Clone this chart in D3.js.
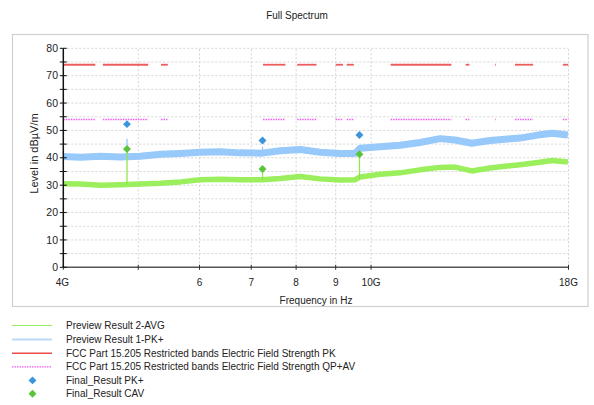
<!DOCTYPE html>
<html>
<head>
<meta charset="utf-8">
<script src="https://cdn.jsdelivr.net/npm/d3@7"></script>
<style>
  html, body { margin: 0; padding: 0; background: #fff; }
  svg { display: block; font-family: "Liberation Sans", Arial, sans-serif; }
</style>
</head>
<body>
<svg id="chart" width="594" height="405"></svg>
<script>
// Sweep frequencies (GHz) and trace levels (dBµV/m)
const freqGHz = [4.00, 4.21, 4.47, 4.74, 5.03, 5.34, 5.67, 6.01, 6.38, 6.77, 7.23, 7.63, 8.10, 8.59, 9.12, 9.54, 9.68, 10.27, 10.90, 11.57, 12.28, 12.84, 13.50, 14.25, 14.90, 15.58, 16.43, 17.14, 17.97];
const previewPk = [40.5, 40.2, 40.6, 40.3, 40.6, 41.3, 41.6, 42.0, 42.2, 41.8, 41.7, 42.6, 43.0, 42.0, 41.6, 41.6, 43.5, 44.0, 44.6, 45.6, 47.0, 46.5, 45.3, 46.3, 46.8, 47.2, 48.3, 49.0, 48.3];
const previewAvg = [30.5, 30.4, 30.0, 30.2, 30.4, 30.7, 31.2, 32.0, 32.2, 32.0, 32.0, 32.4, 33.2, 32.3, 31.9, 32.0, 33.0, 34.0, 34.5, 35.6, 36.5, 36.6, 35.2, 36.3, 36.9, 37.5, 38.3, 39.0, 38.5];

// Narrow emissions found in the sweep
const spikeFreq = [4.835, 7.238, 9.66];
const spikePkBase = [40.4, 41.7, 42.0];
const spikePkTop = [47.0, 44.0, 44.5];
const spikeAvgBase = [30.2, 32.0, 32.2];
const spikeAvgTop = [42.5, 35.8, 41.0];

// Final measurements
const finalFreq = [4.835, 7.238, 9.66];
const finalPk = [52.3, 46.3, 48.3];
const finalCav = [43.2, 35.9, 41.3];

// FCC 15.205 restricted bands (GHz) and limits
const bandStart = [4.0, 4.5, 5.35, 7.25, 8.025, 9.0, 9.3, 10.6, 13.25, 14.47, 15.35, 17.7];
const bandEnd   = [4.4, 5.15, 5.46, 7.75, 8.5, 9.2, 9.5, 12.7, 13.4, 14.5, 16.2, 18.0];
const limitPk = 74;
const limitAv = 54;

// Axis ticks
const xTickValues = [4, 5, 6, 7, 8, 9, 10, 18];
const xTickLabels = ["4G", "", "6", "7", "8", "9", "10G", "18G"];
const yTickValues = [0, 10, 20, 30, 40, 50, 60, 70, 80];
const yGridValues = d3.range(5, 81, 5);

const legendLabels = [
  "Preview Result 2-AVG",
  "Preview Result 1-PK+",
  "FCC Part 15.205 Restricted bands Electric Field Strength PK",
  "FCC Part 15.205 Restricted bands Electric Field Strength QP+AV",
  "Final_Result PK+",
  "Final_Result CAV"
];

const colors = {
  avg: "#9cef5c",
  pk: "#97c9fb",
  limPk: "#ec4b4b",
  limAv: "#f35cf3",
  finPk: "#3c94dc",
  finCav: "#5cc43a"
};

const svg = d3.select("#chart");
const x = d3.scaleLog().domain([4, 18]).range([63.3, 568.5]);
const y = d3.scaleLinear().domain([0, 80]).range([267.3, 48.3]);

// Outer frame
svg.append("rect").attr("x", 12.5).attr("y", 34.5).attr("width", 575.5).attr("height", 272)
  .attr("fill", "none").attr("stroke", "#cfcfcf").attr("stroke-width", 1.2);

// Title
svg.append("text").attr("x", 297).attr("y", 19).attr("text-anchor", "middle")
  .attr("font-size", 10).attr("fill", "#222").text("Full Spectrum");

// Grid
const grid = svg.append("g").attr("stroke", "#d4d4d4").attr("stroke-dasharray", "2,2").attr("stroke-width", 1);
yGridValues.forEach(v => {
  grid.append("line").attr("x1", x(4)).attr("x2", x(18)).attr("y1", y(v)).attr("y2", y(v));
});
xTickValues.filter(v => v > 4).forEach(v => {
  grid.append("line").attr("x1", x(v)).attr("x2", x(v)).attr("y1", y(0)).attr("y2", y(80));
});

const plot = svg.append("g");
svg.append("clipPath").attr("id", "clip").append("rect")
  .attr("x", x(4)).attr("y", y(80)).attr("width", x(18) - x(4)).attr("height", y(0) - y(80));
plot.attr("clip-path", "url(#clip)");

// Limit lines over restricted bands
const bands = bandStart.map((s, i) => ({ s, e: bandEnd[i] }));
plot.selectAll(".limPk").data(bands).join("line")
  .attr("x1", d => x(d.s)).attr("x2", d => x(d.e))
  .attr("y1", y(limitPk)).attr("y2", y(limitPk))
  .attr("stroke", colors.limPk).attr("stroke-width", 1.8).attr("opacity", 0.9);
plot.selectAll(".limAv").data(bands).join("line")
  .attr("x1", d => x(d.s)).attr("x2", d => x(d.e))
  .attr("y1", y(limitAv)).attr("y2", y(limitAv))
  .attr("stroke", colors.limAv).attr("stroke-width", 1.3).attr("stroke-dasharray", "1.5,1");

// Preview traces
const line = d3.line().x(d => x(d[0])).y(d => y(d[1])).curve(d3.curveLinear);
plot.append("path").datum(freqGHz.map((f, i) => [f, previewPk[i]]))
  .attr("d", line).attr("fill", "none").attr("stroke", colors.pk)
  .attr("stroke-width", 7).attr("stroke-linejoin", "round");
plot.append("path").datum(freqGHz.map((f, i) => [f, previewAvg[i]]))
  .attr("d", line).attr("fill", "none").attr("stroke", colors.avg)
  .attr("stroke-width", 5.5).attr("stroke-linejoin", "round");

// Narrow spikes
spikeFreq.forEach((f, i) => {
  plot.append("line").attr("x1", x(f)).attr("x2", x(f))
    .attr("y1", y(spikePkBase[i])).attr("y2", y(spikePkTop[i]))
    .attr("stroke", colors.pk).attr("stroke-width", 1.3);
  plot.append("line").attr("x1", x(f)).attr("x2", x(f))
    .attr("y1", y(spikeAvgBase[i])).attr("y2", y(spikeAvgTop[i]))
    .attr("stroke", "#8fe84a").attr("stroke-width", 1.3);
});

// Final result diamonds
const diamond = d3.symbol().type(d3.symbolDiamond2).size(40);
plot.selectAll(".finPk").data(finalFreq).join("path")
  .attr("d", diamond).attr("transform", (f, i) => `translate(${x(f)},${y(finalPk[i])})`)
  .attr("fill", colors.finPk);
plot.selectAll(".finCav").data(finalFreq).join("path")
  .attr("d", diamond).attr("transform", (f, i) => `translate(${x(f)},${y(finalCav[i])})`)
  .attr("fill", colors.finCav);

// Axes
const xAxis = svg.append("g");
xAxis.append("line").attr("x1", x(4)).attr("x2", x(18)).attr("y1", y(0)).attr("y2", y(0))
  .attr("stroke", "#555").attr("stroke-width", 1.5);
xTickValues.forEach((v, i) => {
  xAxis.append("line").attr("x1", x(v)).attr("x2", x(v)).attr("y1", y(0) - 2.5).attr("y2", y(0) + 2.5)
    .attr("stroke", "#333").attr("stroke-width", 1);
  xAxis.append("text").attr("x", x(v) - (i === 0 ? 1 : 0)).attr("y", 285.5).attr("text-anchor", "middle")
    .attr("font-size", 10).attr("fill", "#222").text(xTickLabels[i]);
});

const yAxis = svg.append("g");
yAxis.append("line").attr("x1", x(4)).attr("x2", x(4)).attr("y1", y(0)).attr("y2", y(80))
  .attr("stroke", "#111").attr("stroke-width", 1.5);
yGridValues.concat([0]).forEach(v => {
  yAxis.append("line").attr("x1", x(4) - 3.5).attr("x2", x(4) + 3.5).attr("y1", y(v)).attr("y2", y(v))
    .attr("stroke", "#111").attr("stroke-width", 1);
});
yTickValues.forEach(v => {
  yAxis.append("text").attr("x", 58).attr("y", y(v) + 3.6).attr("text-anchor", "end")
    .attr("font-size", 10.5).attr("fill", "#222").text(v);
});

// Axis titles
svg.append("text").attr("transform", "translate(38,153.5) rotate(-90)").attr("text-anchor", "middle")
  .attr("font-size", 11).attr("fill", "#222").text("Level in dBµV/m");
svg.append("text").attr("x", 316).attr("y", 304).attr("text-anchor", "middle")
  .attr("font-size", 10).attr("fill", "#222").text("Frequency in Hz");

// Legend
const legendY = [325.5, 339.5, 353.2, 366.8, 380.4, 393.8];
const leg = svg.append("g");
leg.append("line").attr("x1", 12).attr("x2", 52).attr("y1", legendY[0]).attr("y2", legendY[0])
  .attr("stroke", colors.avg).attr("stroke-width", 1);
leg.append("line").attr("x1", 12).attr("x2", 52).attr("y1", legendY[1]).attr("y2", legendY[1])
  .attr("stroke", "#b9daf8").attr("stroke-width", 2);
leg.append("line").attr("x1", 12).attr("x2", 52).attr("y1", legendY[2]).attr("y2", legendY[2])
  .attr("stroke", colors.limPk).attr("stroke-width", 1.5);
leg.append("line").attr("x1", 12).attr("x2", 52).attr("y1", legendY[3]).attr("y2", legendY[3])
  .attr("stroke", colors.limAv).attr("stroke-width", 1.2).attr("stroke-dasharray", "1.5,1");
leg.append("path").attr("d", diamond).attr("transform", `translate(32.5,${legendY[4]})`).attr("fill", colors.finPk);
leg.append("path").attr("d", diamond).attr("transform", `translate(32.5,${legendY[5]})`).attr("fill", colors.finCav);
legendLabels.forEach((t, i) => {
  leg.append("text").attr("x", 66).attr("y", legendY[i] + 3.6)
    .attr("font-size", 10).attr("fill", "#222").text(t);
});
</script>
</body>
</html>
